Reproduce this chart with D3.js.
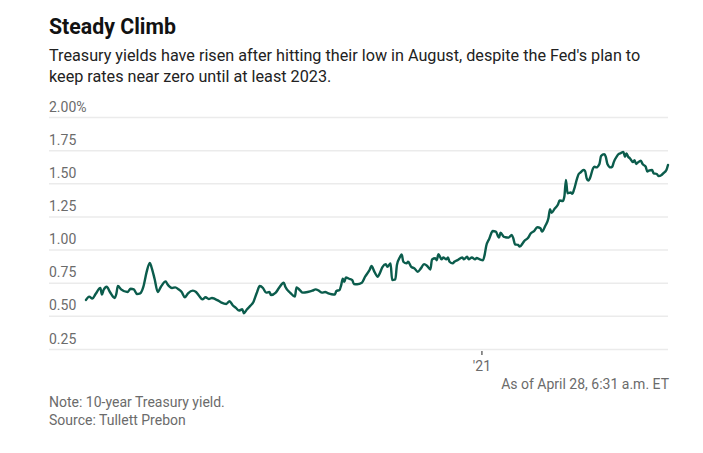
<!DOCTYPE html>
<html>
<head>
<meta charset="utf-8">
<script src="https://cdn.jsdelivr.net/npm/d3@7"></script>
<style>
  html, body { margin: 0; padding: 0; background: #fff; }
  svg { display: block; font-family: Roboto, "Noto Sans", sans-serif; }
</style>
</head>
<body>
<svg id="chart" width="703" height="453"></svg>
<script>
const title = "Steady Climb";
const subtitleLines = [
  "Treasury yields have risen after hitting their low in August, despite the Fed's plan to",
  "keep rates near zero until at least 2023."
];
const noteText = "Note: 10-year Treasury yield.";
const sourceText = "Source: Tullett Prebon";
const asOfText = "As of April 28, 6:31 a.m. ET";

const yTicks = [0.25, 0.5, 0.75, 1.0, 1.25, 1.5, 1.75, 2.0];
const yTickLabels = ["0.25", "0.50", "0.75", "1.00", "1.25", "1.50", "1.75", "2.00%"];
const xTicks = ["2021-01-01"];
const xTickLabels = ["'21"];

const dates = [
"2020-04-28","2020-04-30","2020-05-02","2020-05-04","2020-05-07","2020-05-08","2020-05-09","2020-05-11","2020-05-13","2020-05-16",
"2020-05-17","2020-05-18","2020-05-20","2020-05-24","2020-05-26","2020-05-28","2020-05-30","2020-06-01","2020-06-03","2020-06-05",
"2020-06-07","2020-06-08","2020-06-10","2020-06-12","2020-06-14","2020-06-17","2020-06-18","2020-06-21","2020-06-23","2020-06-25",
"2020-06-27","2020-06-29","2020-07-01","2020-07-04","2020-07-06","2020-07-08","2020-07-10","2020-07-12","2020-07-14","2020-07-16",
"2020-07-18","2020-07-20","2020-07-22","2020-07-25","2020-07-27","2020-07-29","2020-07-31","2020-08-02","2020-08-04","2020-08-05",
"2020-08-07","2020-08-09","2020-08-11","2020-08-13","2020-08-15","2020-08-17","2020-08-19","2020-08-21","2020-08-22","2020-08-25",
"2020-08-27","2020-08-30","2020-08-31","2020-09-03","2020-09-06","2020-09-07","2020-09-09","2020-09-11","2020-09-14","2020-09-17",
"2020-09-19","2020-09-21","2020-09-23","2020-09-25","2020-09-27","2020-09-29","2020-10-01","2020-10-02","2020-10-04","2020-10-05",
"2020-10-06","2020-10-07","2020-10-08","2020-10-10","2020-10-12","2020-10-13","2020-10-15","2020-10-18","2020-10-20","2020-10-23",
"2020-10-24","2020-10-26","2020-10-28","2020-10-29","2020-10-31","2020-11-02","2020-11-03","2020-11-05","2020-11-06","2020-11-08",
"2020-11-09","2020-11-11","2020-11-12","2020-11-13","2020-11-15","2020-11-16","2020-11-18","2020-11-20","2020-11-22","2020-11-24",
"2020-11-26","2020-11-28","2020-11-30","2020-12-01","2020-12-03","2020-12-04","2020-12-05","2020-12-07","2020-12-08","2020-12-10",
"2020-12-11","2020-12-12","2020-12-14","2020-12-15","2020-12-17","2020-12-20","2020-12-21","2020-12-23","2020-12-24","2020-12-26",
"2020-12-28","2020-12-29","2020-12-31","2021-01-02","2021-01-03","2021-01-04","2021-01-06","2021-01-07","2021-01-08","2021-01-10",
"2021-01-12","2021-01-13","2021-01-15","2021-01-16","2021-01-18","2021-01-20","2021-01-21","2021-01-22","2021-01-24","2021-01-25",
"2021-01-27","2021-01-28","2021-01-30","2021-02-01","2021-02-03","2021-02-05","2021-02-07","2021-02-08","2021-02-10","2021-02-12",
"2021-02-13","2021-02-14","2021-02-16","2021-02-18","2021-02-19","2021-02-21","2021-02-22","2021-02-23","2021-02-24","2021-02-26",
"2021-02-27","2021-02-28","2021-03-02","2021-03-03","2021-03-04","2021-03-06","2021-03-07","2021-03-08","2021-03-09","2021-03-10",
"2021-03-12","2021-03-13","2021-03-14","2021-03-16","2021-03-17","2021-03-19","2021-03-20","2021-03-21","2021-03-23","2021-03-24",
"2021-03-25","2021-03-27","2021-03-28","2021-03-29","2021-03-31","2021-04-01","2021-04-02","2021-04-03","2021-04-04","2021-04-06",
"2021-04-07","2021-04-08","2021-04-09","2021-04-11","2021-04-12","2021-04-14","2021-04-15","2021-04-16","2021-04-18","2021-04-19",
"2021-04-21","2021-04-22","2021-04-24","2021-04-25","2021-04-27","2021-04-28"
];

const yields = [
0.620,0.645,0.630,0.665,0.710,0.660,0.695,0.720,0.680,0.635,
0.665,0.725,0.700,0.680,0.705,0.700,0.665,0.670,0.720,0.830,
0.900,0.870,0.780,0.680,0.720,0.760,0.740,0.710,0.715,0.700,
0.680,0.640,0.670,0.690,0.680,0.650,0.625,0.640,0.627,0.635,
0.627,0.615,0.600,0.590,0.610,0.580,0.560,0.540,0.550,0.520,
0.550,0.575,0.605,0.670,0.725,0.710,0.675,0.680,0.657,0.675,
0.710,0.750,0.720,0.675,0.645,0.715,0.695,0.675,0.680,0.690,
0.700,0.690,0.675,0.680,0.670,0.663,0.660,0.687,0.695,0.730,
0.780,0.757,0.790,0.780,0.770,0.740,0.738,0.750,0.795,0.850,
0.876,0.830,0.795,0.815,0.870,0.890,0.870,0.896,0.770,0.775,
0.883,0.946,0.964,0.908,0.896,0.908,0.870,0.858,0.833,0.858,
0.890,0.876,0.850,0.926,0.934,0.920,0.966,0.926,0.940,0.926,
0.940,0.908,0.896,0.908,0.920,0.940,0.926,0.946,0.926,0.940,
0.926,0.936,0.926,0.920,0.960,1.027,1.085,1.118,1.140,1.135,
1.090,1.127,1.097,1.093,1.090,1.110,1.085,1.040,1.035,1.022,
1.050,1.067,1.085,1.123,1.140,1.168,1.160,1.135,1.178,1.236,
1.304,1.278,1.310,1.340,1.370,1.366,1.400,1.525,1.425,1.430,
1.420,1.450,1.537,1.570,1.580,1.600,1.593,1.537,1.520,1.537,
1.613,1.625,1.620,1.646,1.705,1.720,1.700,1.646,1.620,1.625,
1.660,1.705,1.720,1.725,1.737,1.700,1.725,1.700,1.690,1.660,
1.675,1.646,1.656,1.670,1.646,1.625,1.588,1.595,1.600,1.575,
1.570,1.555,1.563,1.575,1.600,1.638
];

const parse = d3.timeParse("%Y-%m-%d");
const data = dates.map((d, i) => ({ date: parse(d), value: yields[i] }));

const svg = d3.select("#chart");
const lineColor = "#0b5c4c";
const textGray = "#6b6b6b";

// Title & subtitle
svg.append("text").attr("x", 49).attr("y", 34)
  .attr("font-size", 21.3).attr("font-weight", 700).attr("fill", "#121212")
  .text(title);
subtitleLines.forEach((t, i) => {
  svg.append("text").attr("x", 49).attr("y", 61 + i * 21)
    .attr("font-size", 16.2).attr("fill", "#222").text(t);
});

// Scales
const plotLeft = 49, plotRight = 668;
const x = d3.scaleTime()
  .domain([parse("2020-04-28"), parse("2021-04-28")])
  .range([86, 668]);
const y = d3.scaleLinear().domain([0.25, 2.0]).range([349, 117]);

// Y axis with gridlines
const yAxis = d3.axisRight(y)
  .tickValues(yTicks)
  .tickSize(plotRight - plotLeft)
  .tickFormat((d, i) => yTickLabels[i]);
const gy = svg.append("g").attr("transform", `translate(${plotLeft},0)`).call(yAxis);
gy.select(".domain").remove();
gy.selectAll(".tick line").attr("stroke", "#ebebeb").attr("stroke-width", 1.5);
gy.selectAll(".tick text")
  .attr("x", 0).attr("dy", -6).attr("text-anchor", "start")
  .attr("font-size", 14).attr("fill", textGray)
  .attr("font-family", "Roboto, sans-serif");

// X axis
const xAxis = d3.axisBottom(x)
  .tickValues(xTicks.map(parse))
  .tickSize(5)
  .tickFormat((d, i) => xTickLabels[i]);
const gx = svg.append("g").attr("transform", "translate(0,349)").call(xAxis);
gx.select(".domain").remove();
gx.selectAll(".tick line").attr("stroke", "#222").attr("stroke-width", 1).attr("y1", 2).attr("y2", 6);
gx.selectAll(".tick text").attr("y", 12).attr("dy", "0.71em")
  .attr("font-size", 14).attr("fill", textGray)
  .attr("font-family", "Roboto, sans-serif");

// Line
const line = d3.line()
  .x(d => x(d.date))
  .y(d => y(d.value))
  .curve(d3.curveMonotoneX);
svg.append("path").datum(data)
  .attr("fill", "none")
  .attr("stroke", lineColor)
  .attr("stroke-width", 2.4)
  .attr("stroke-linejoin", "round")
  .attr("stroke-linecap", "round")
  .attr("d", line);

// Footer
svg.append("text").attr("x", 669).attr("y", 389).attr("text-anchor", "end")
  .attr("font-size", 14).attr("fill", textGray).text(asOfText);
svg.append("text").attr("x", 49).attr("y", 407)
  .attr("font-size", 14).attr("fill", textGray).text(noteText);
svg.append("text").attr("x", 49).attr("y", 425)
  .attr("font-size", 14).attr("fill", textGray).text(sourceText);
</script>
</body>
</html>
